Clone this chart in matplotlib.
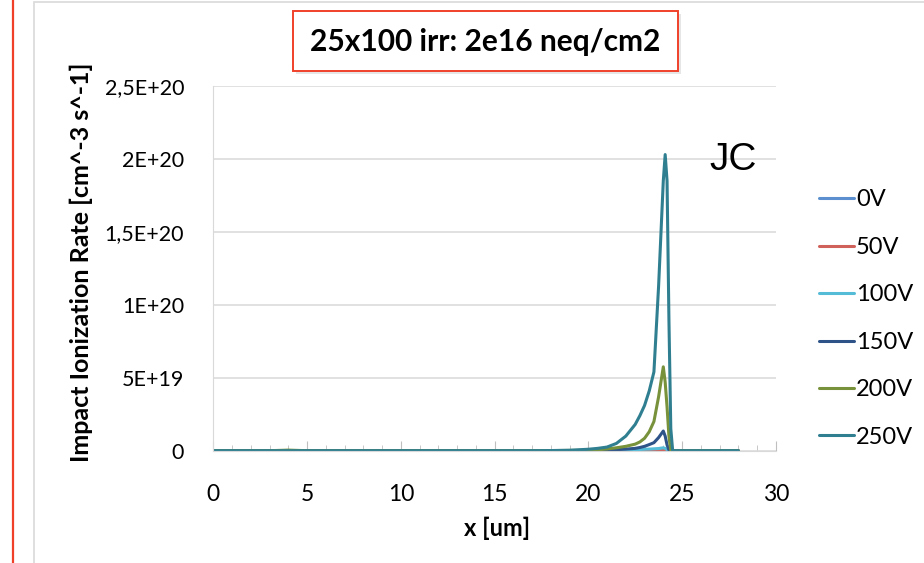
import matplotlib
matplotlib.use("Agg")
import matplotlib.pyplot as plt
from matplotlib.patches import Rectangle
from matplotlib.lines import Line2D

plt.rcParams['font.family'] = ['Lato', 'DejaVu Sans']

W, H = 924, 563
SCALE = 1e18  # values below in units of 1e18 cm^-3 s^-1

x_um = [0, 1, 2, 3, 4, 5, 6, 7, 8, 9, 10, 11, 12, 13, 14, 15, 16, 17, 18, 19,
        20, 20.5, 21, 21.5, 22, 22.5, 22.75, 23, 23.25, 23.5, 23.75, 24, 24.1,
        24.2, 24.3, 24.4, 24.5, 25, 26, 27, 28]

v0 = [0] * 41
v50 = [0, 0, 0, 0, 0, 0, 0, 0, 0, 0, 0, 0, 0, 0, 0, 0, 0, 0, 0, 0,
       0, 0, 0, 0, 0, 0, 0, 0, 0, 0.1, 0.3, 0.6, 0.4,
       0.1, 0, 0, 0, 0, 0, 0, 0]
v100 = [0, 0, 0, 0, 0, 0, 0, 0, 0, 0, 0, 0, 0, 0, 0, 0, 0, 0, 0, 0,
        0, 0.1, 0.2, 0.25, 0.3, 0.6, 0.8, 1.0, 1.1, 1.3, 1.5, 2.0, 1.6,
        0.8, 0.2, 0, 0, 0, 0, 0, 0]
v150 = [0, 0, 0, 0, 0, 0, 0, 0, 0, 0, 0, 0, 0, 0, 0, 0, 0, 0, 0, 0,
        0.1, 0.2, 0.4, 0.7, 1.1, 1.6, 2.2, 3.0, 4.2, 5.5, 9.0, 13.5, 10.0,
        4.0, 0.5, 0, 0, 0, 0, 0, 0]
v200 = [0, 0, 0, 0, 0.4, 0, 0, 0, 0, 0, 0, 0, 0, 0, 0, 0, 0, 0, 0.1, 0.2,
        0.3, 0.6, 1.2, 2.0, 3.0, 4.5, 6.0, 8.5, 13.0, 20.0, 37.0, 57.5, 47.0,
        30.0, 10.0, 0, 0, 0, 0, 0, 0]
v250 = [0, 0, 0, 0, 0, 0, 0, 0, 0, 0, 0, 0, 0, 0, 0, 0, 0, 0, 0.1, 0.3,
        1.0, 1.6, 2.5, 5.0, 10.0, 18.0, 24.0, 31.0, 41.0, 54.0, 113.0, 185.0, 203.0,
        185.0, 90.0, 15.0, 0, 0, 0, 0, 0]

series_names = ['0V', '50V', '100V', '150V', '200V', '250V']
series_vals = [v0, v50, v100, v150, v200, v250]
colors = ['#5B8FD0', '#D0605A', '#55BCD8', '#2E5388', '#77923A', '#2F7F91']

y_ticks = [0, 5e19, 1e20, 1.5e20, 2e20, 2.5e20]
y_ticklabels = ['0', '5E+19', '1E+20', '1,5E+20', '2E+20', '2,5E+20']
x_ticks = [0, 5, 10, 15, 20, 25, 30]

fig = plt.figure(figsize=(W / 100, H / 100), dpi=100)

def fx(px):
    return px / W

def fy(py):
    return 1 - py / H

# chart frame & red line
fig.add_artist(Line2D([fx(13), fx(13)], [0, 1], color='#F0402A', lw=1.6))
fig.add_artist(Rectangle((fx(34), fy(600)), fx(1000), (600 - 2) / H,
                         fill=False, edgecolor='#D9D9D9', lw=1.2))

L, R, T, B = 213.3, 775.8, 86, 450.7
ax = fig.add_axes([fx(L), fy(B), fx(R - L), (B - T) / H])

for name, vals, c in zip(series_names, series_vals, colors):
    ax.plot(x_um, [v * SCALE for v in vals], color=c, lw=2.2, label=name,
            solid_joinstyle='round', solid_capstyle='round')

ax.set_xlim(0, 30)
ax.set_ylim(0, 2.5e20)
ax.set_yticks(y_ticks)
ax.set_yticklabels(y_ticklabels)
ax.set_xticks(x_ticks)
ax.set_xticks(range(0, 31), minor=True)
ax.grid(axis='y', color='#D9D9D9', lw=1.1)
ax.set_axisbelow(True)
for s in ['top', 'right']:
    ax.spines[s].set_visible(False)
ax.spines['left'].set_color('#D9D9D9')
ax.spines['bottom'].set_color('#D9D9D9')
ax.tick_params(axis='y', length=0, pad=21, labelsize=15.5)
ax.tick_params(axis='x', which='major', direction='in', length=7, color='#BFBFBF',
               labelsize=16.5, pad=24)
ax.tick_params(axis='x', which='minor', direction='in', length=4, color='#BFBFBF')

ax.set_xlabel('x [um]', fontsize=17, fontweight='bold')
ax.xaxis.set_label_coords(fx(497), fy(528), transform=fig.transFigure)
ax.set_ylabel('Impact Ionization Rate [cm^-3 s^-1]', fontsize=18, fontweight='bold')
ax.yaxis.set_label_coords(fx(81), fy(262), transform=fig.transFigure)
ax.yaxis.label.set_va('center')
ax.xaxis.label.set_va('center')

ax.text(fx(733), fy(160), 'JC', transform=fig.transFigure, fontsize=28,
        family='Liberation Sans', ha='center', va='center')

leg = ax.legend(loc='upper left', bbox_to_anchor=(fx(810), fy(180)),
                bbox_transform=fig.transFigure, frameon=False, fontsize=17,
                handlelength=1.45, handletextpad=0.1, labelspacing=1.12,
                borderaxespad=0)

# title box with shadow
bx0, by0, bx1, by1 = 292.7, 10.7, 678, 71
fig.add_artist(Rectangle((fx(bx0 + 3), fy(by1 + 3)), fx(bx1 - bx0), (by1 - by0) / H,
                         facecolor='#C8C8C8', edgecolor='none', alpha=0.45))
fig.add_artist(Rectangle((fx(bx0), fy(by1)), fx(bx1 - bx0), (by1 - by0) / H,
                         facecolor='white', edgecolor='#F0402A', lw=1.4))
fig.text(fx((bx0 + bx1) / 2), fy(42), '25x100 irr: 2e16 neq/cm2', fontsize=21.5,
         fontweight='bold', ha='center', va='center')

fig.savefig('out.png', dpi=100)
